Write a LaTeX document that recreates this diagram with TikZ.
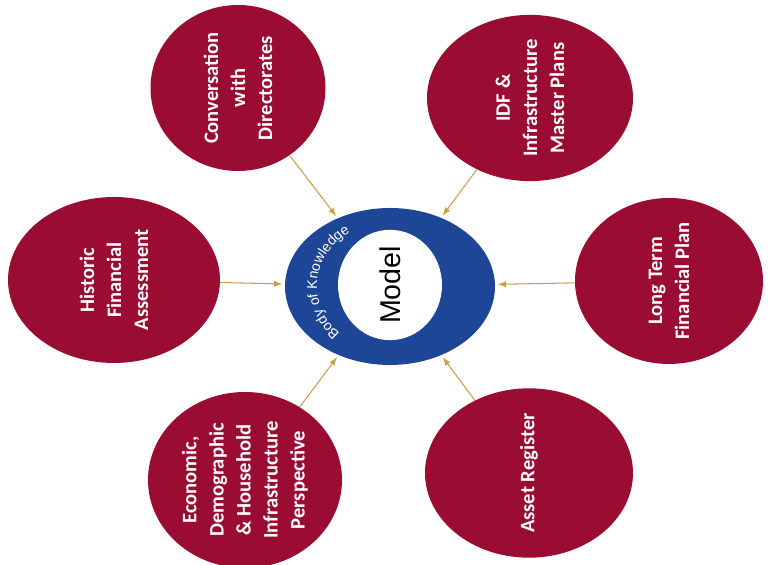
\documentclass[tikz,border=0pt]{standalone}
\usepackage{fontspec}
\usepackage{xcolor}
\usetikzlibrary{shapes.geometric, decorations.text, arrows}
\newfontfamily\bubblefont{Carlito}
\newfontfamily\ringfont{Liberation Sans}
\definecolor{bubblered}{RGB}{155,12,50}
\definecolor{ringblue}{RGB}{30,70,150}
\definecolor{linkgold}{RGB}{200,160,70}

\begin{document}
\begin{tikzpicture}[
    bubble/.style={ellipse, fill=bubblered, rotate=90, inner sep=0pt, align=center, text=white, font=\bubblefont\bfseries\fontsize{11.7}{15.4}\selectfont},
    ring/.style={ellipse, fill=ringblue, inner sep=0pt},
    hole/.style={ellipse, fill=white, rotate=90, inner sep=0pt, font=\ringfont\fontsize{16.3}{18}\selectfont},
    link/.style={draw=linkgold, line width=0.6pt, -latex, shorten >=1.5pt},
]
    \useasboundingbox (0,0) rectangle (15.4,11.3);

    % Centre ring
    \node[ring, minimum width=4.2cm, minimum height=3.14cm] (bok) at (7.8, 5.57) {};
    \node[hole, minimum width=1.8cm, minimum height=2.08cm] (model) at (7.8, 5.6) {Model};
    \path[decorate, decoration={text along path, text align=center, text color=white,
        text={|\ringfont\fontsize{8}{10}\selectfont|Body of Knowledge}}]
        (bok.center) ++(235:1.46cm and 1.3cm)
        arc[start angle=235, end angle=115, x radius=1.46cm, y radius=1.3cm];

    % Inputs
    \node[bubble, minimum width=3.32cm, minimum height=3.5cm] (conv) at (4.76, 9.54) {Conversation\\with\\Directorates};
    \node[bubble, minimum width=3.32cm, minimum height=4.12cm] (idf) at (10.6, 9.34) {IDF \&\\Infrastructure\\Master Plans};
    \node[bubble, minimum width=3.32cm, minimum height=4.24cm] (hist) at (2.28, 5.70) {Historic\\Financial\\Assessment};
    \node[bubble, minimum width=3.28cm, minimum height=3.76cm] (ltfp) at (13.38, 5.68) {Long Term\\Financial Plan};
    \node[bubble, minimum width=3.52cm, minimum height=3.88cm] (econ) at (4.9, 1.7) {Economic,\\Demographic\\\& Household\\Infrastructure\\Perspective};
    \node[bubble, minimum width=3.36cm, minimum height=4.16cm] (asset) at (10.58, 1.84) {Asset Register};

    % Links
    \foreach \b in {conv, idf, hist, ltfp, econ, asset} {
        \draw[link] (\b) -- (bok);
    }
\end{tikzpicture}
\end{document}
